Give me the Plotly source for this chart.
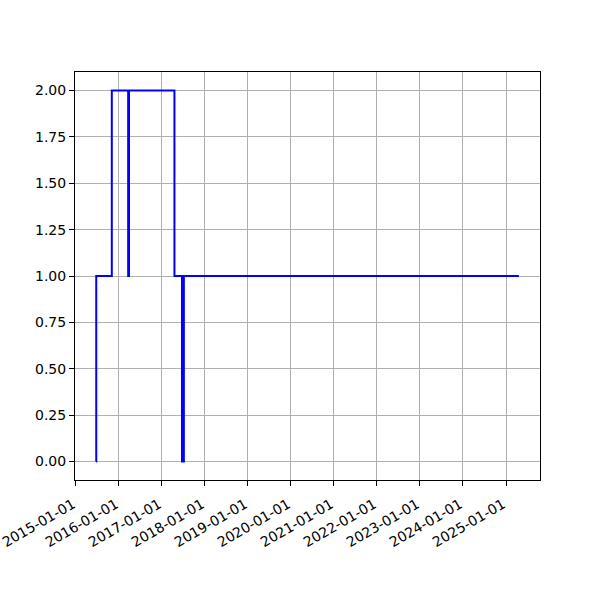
import pandas as pd
import plotly.graph_objects as go

# change points of the stepped series (value holds from each date until the next)
dates = ["2015-06-22", "2015-06-23", "2015-11-02",
         "2016-03-20", "2016-03-27",
         "2017-04-17",
         "2017-06-20", "2017-06-24", "2017-06-30", "2017-07-06",
         "2025-04-20"]
values = [0, 1, 2,
          1, 2,
          1,
          0, 1, 0, 1,
          1]

y_ticks = [0.0, 0.25, 0.5, 0.75, 1.0, 1.25, 1.5, 1.75, 2.0]
x_ticks = [f"{y}-01-01" for y in range(2015, 2026)]

d = pd.to_datetime(dates)
span = d.max() - d.min()
x_range = [d.min() - span * 0.05, d.max() + span * 0.05]
vspan = max(values) - min(values)
y_range = [min(values) - vspan * 0.05, max(values) + vspan * 0.05]

fig = go.Figure()
fig.add_trace(go.Scatter(x=d, y=values, mode="lines", line_shape="hv",
                         line=dict(color="#0000ff", width=2), showlegend=False))

axis_common = dict(showline=True, linecolor="black", linewidth=1, mirror=True,
                   ticks="outside", ticklen=5, tickcolor="black", tickwidth=1,
                   showgrid=True, gridcolor="#b0b0b0", gridwidth=1, zeroline=False,
                   automargin=False, ticklabeloverflow="allow",
                   tickfont=dict(family="DejaVu Sans", size=14, color="black"))

fig.update_xaxes(range=x_range, tickvals=pd.to_datetime(x_ticks), ticktext=x_ticks,
                 tickangle=-30, ticklabelstandoff=5, ticklabelshift=-3, **axis_common)
fig.update_yaxes(range=y_range, tickvals=y_ticks, ticktext=[f"{v:.2f}" for v in y_ticks],
                 **axis_common)

fig.update_layout(width=600, height=600, plot_bgcolor="white", paper_bgcolor="white",
                  margin=dict(l=75, r=60, t=72, b=120),
                  font=dict(family="DejaVu Sans", size=14, color="black"))

fig.write_html("out.html", config={"displayModeBar": False},
               post_script="document.body.style.margin='0';")
